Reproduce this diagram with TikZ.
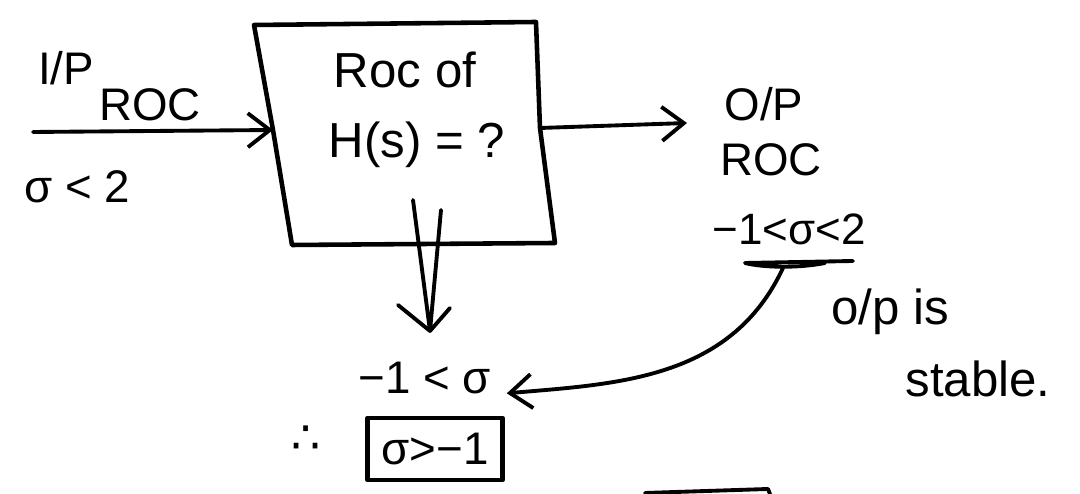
\documentclass[tikz,border=0pt]{standalone}
\usepackage{fontspec}
\setmainfont{Liberation Sans}
\newfontfamily\symbfont{DejaVu Sans}
\usetikzlibrary{arrows.meta}

\begin{document}
\begin{tikzpicture}[x=0.1mm,y=-0.1mm,line cap=round,line join=round,
    >={Straight Barb[length=2.2mm,width=3.4mm]},
    lbl/.style={inner sep=0pt,font=\fontsize{13}{15}\selectfont},
    boxtxt/.style={inner sep=0pt,font=\fontsize{14}{16}\selectfont},
    flow/.style={line width=1.1pt}]
    \useasboundingbox (0,0) rectangle (1080,494);
    % system block (hand drawn, a bit skewed)
    \coordinate (tl) at (254,25);
    \coordinate (tr) at (536,22);
    \coordinate (br) at (555,243);
    \coordinate (bl) at (292,245);
    \coordinate (boxin) at (273,130);
    \coordinate (boxout) at (540,128);
    \draw[line width=1.3pt] (tl) -- (tr) -- (boxout) -- (br) -- (bl) -- (boxin) -- cycle;
    \node[boxtxt] (roc) at (405,70) {Roc of};
    \node[boxtxt] (hs) at (417,145) {H(s) = ?};

    % input side
    \coordinate (src) at (33,132);
    \draw[flow,->] (src) -- (boxin);
    \node[lbl] (ip) at (66,68) {I/P};
    \node[lbl] (iproc) at (150,105) {ROC};
    \node[lbl] (iprange) at (77,187) {σ < 2};

    % output side
    \coordinate (snk) at (687,123);
    \draw[flow,->] (boxout) -- (snk);
    \node[lbl] (op) at (764,104) {O/P};
    \node[lbl] (oproc) at (771,160) {ROC};
    \node[lbl,font=\fontsize{12.5}{14}\selectfont] (oprange) at (789,229) {−1<σ<2};
    \coordinate (ulR) at (853,261);
    \coordinate (ulL) at (745,263);
    \coordinate (ulM) at (783,268);
    \draw[flow] (ulR) -- (ulL) .. controls (765,268) and (800,268) .. (825,263);

    % deduced ROC of H(s)
    \node[lbl] (lower) at (425,378) {−1 < σ};
    \coordinate (dA) at (413,200);
    \coordinate (dB) at (441,210);
    \coordinate (dtip) at (430,331);
    \draw[flow] (dA) -- (dtip) (dB) -- (dtip);
    \draw[flow] (398,305) -- (dtip) -- (450,308);
    \draw[flow,->,shorten >=1.5mm] (ulM) to[out=-115,in=5] (lower.south east);
    \node[lbl,font=\symbfont\fontsize{13}{15}\selectfont] (there) at (306,440) {∴};
    \node[lbl,draw,line width=1.3pt,minimum width=13.5mm,minimum height=6.2mm] (res) at (435,449) {σ>−1};

    \node[lbl,font=\fontsize{14}{16}\selectfont] (stab1) at (890,312) {o/p is};
    \node[lbl,font=\fontsize{14}{16}\selectfont] (stab2) at (978,379) {stable.};

    \draw[flow] (645,493) -- (768,489) -- (770,494);
\end{tikzpicture}
\end{document}
